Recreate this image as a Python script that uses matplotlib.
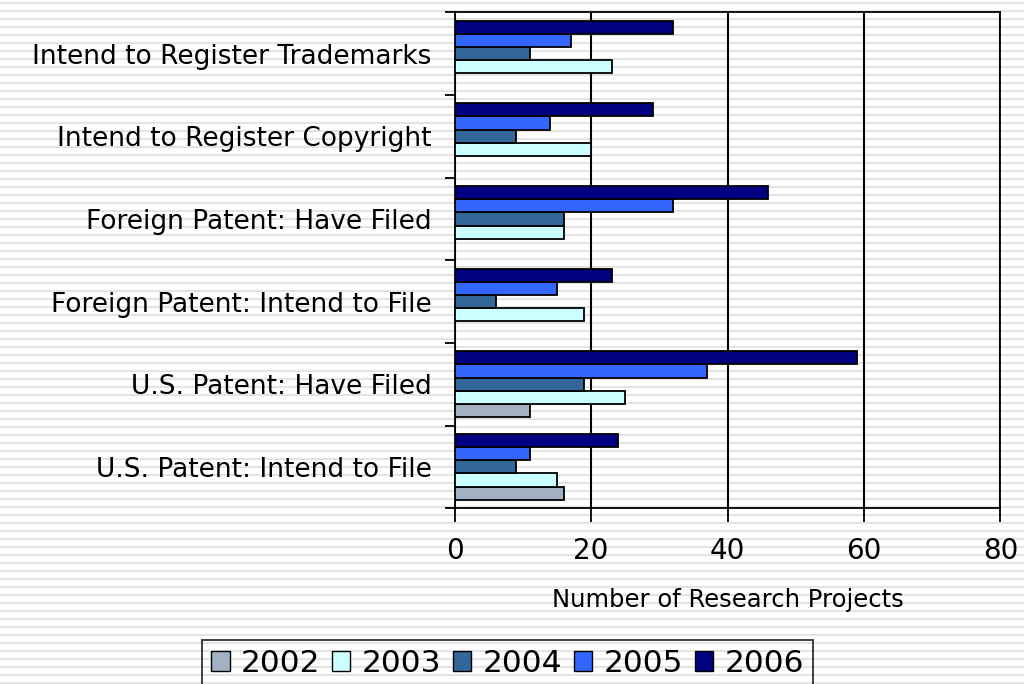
import matplotlib.pyplot as plt
import numpy as np
from matplotlib.patches import Patch

categories = [
    "U.S. Patent: Intend to File",
    "U.S. Patent: Have Filed",
    "Foreign Patent: Intend to File",
    "Foreign Patent: Have Filed",
    "Intend to Register Copyright",
    "Intend to Register Trademarks",
]
years = ["2002", "2003", "2004", "2005", "2006"]
v2002 = [16, 11, 0, 0, 0, 0]
v2003 = [15, 25, 19, 16, 20, 23]
v2004 = [9, 19, 6, 16, 9, 11]
v2005 = [11, 37, 15, 32, 14, 17]
v2006 = [24, 59, 23, 46, 29, 32]
series = [v2002, v2003, v2004, v2005, v2006]
colors = ["#a3b2c2", "#ccffff", "#336699", "#3366ff", "#000080"]

fig = plt.figure(figsize=(10.24, 6.84), dpi=100)

# striped slide background
bg = fig.add_axes([0, 0, 1, 1], zorder=-10)
bg.set_xlim(0, 1)
bg.set_ylim(684, 0)
for y0 in np.arange(2, 684, 8):
    bg.axhspan(y0, y0 + 2, color="#e3e3e3", lw=0)
bg.axis("off")

ax = fig.add_axes([0.444, 0.257, 0.533, 0.725])
ax.patch.set_alpha(0)

y = np.arange(len(categories))
h = 0.16
for i, (vals, c, yr) in enumerate(zip(series, colors, years)):
    ax.barh(y + (i - 2) * h, vals, height=h, color=c, edgecolor="black",
            linewidth=1.3, label=yr, zorder=3)

ax.set_xlim(0, 80)
ax.set_ylim(-0.5, len(categories) - 0.5)
ax.set_xticks([0, 20, 40, 60, 80])
ax.tick_params(axis="x", labelsize=20, length=10, width=1.3, pad=11)
ax.set_yticks(y)
ax.set_yticklabels(categories, fontsize=19)
ax.set_yticks(np.arange(-0.5, len(categories)), minor=True)
ax.tick_params(axis="y", which="major", length=0, pad=16.5)
ax.tick_params(axis="y", which="minor", length=7, width=1.3)
ax.grid(axis="x", color="black", linewidth=1.5, zorder=1)
for s in ax.spines.values():
    s.set_linewidth(1.3)
ax.set_xlabel("Number of Research Projects", fontsize=17.5, labelpad=16)

handles = [Patch(facecolor=c, edgecolor="black", label=yr) for c, yr in zip(colors, years)]
leg = fig.legend(handles=handles, loc="upper left", bbox_to_anchor=(202 / 1024, 1 - 640 / 684),
                 ncol=5, fontsize=22.5, frameon=True, fancybox=False,
                 handlelength=0.6, handleheight=0.6, handletextpad=0.375, columnspacing=0.35,
                 borderpad=0.28, borderaxespad=0)
leg.get_frame().set_facecolor("none")
leg.get_frame().set_edgecolor("black")
leg.get_frame().set_linewidth(1.3)

fig.savefig("out.png", dpi=100)
